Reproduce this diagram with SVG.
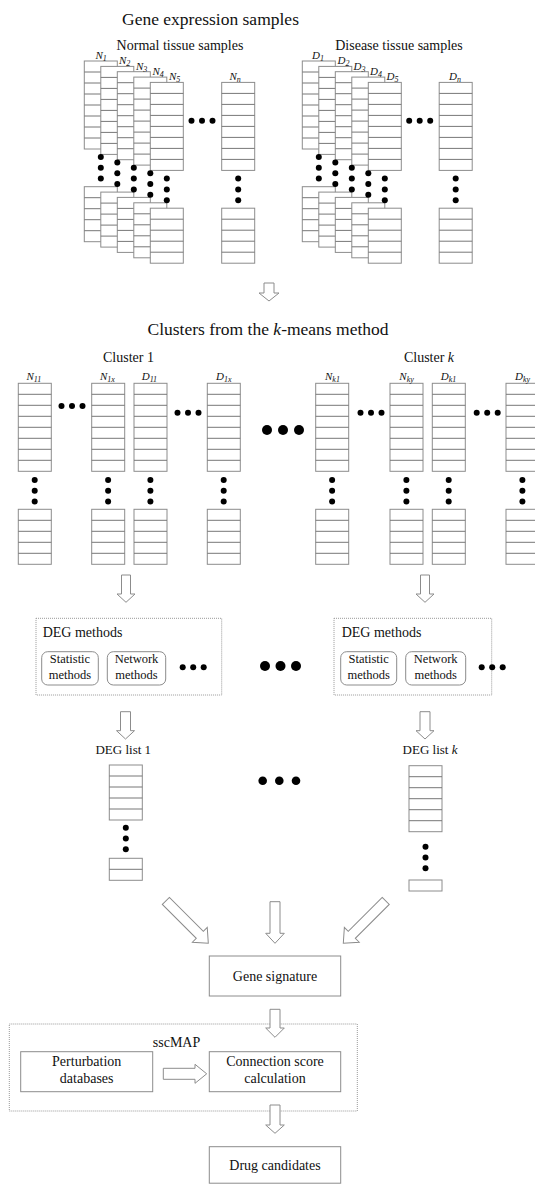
<svg xmlns="http://www.w3.org/2000/svg" width="535" height="1184" viewBox="0 0 535 1184">
  <style>
    text { font-family: "Liberation Serif", "Times New Roman", serif; fill: #111; }
    .title { font-size: 17.5px; text-anchor: middle; }
    .head { font-size: 14px; text-anchor: middle; }
    .lbl { font-size: 11px; font-style: italic; }
    .sub { font-size: 8px; }
    .box-txt { font-size: 14px; text-anchor: middle; }
    .small-txt { font-size: 12.5px; text-anchor: middle; }
    .dot { fill: #000; }
    .box { fill: #fff; stroke: #8c8c8c; stroke-width: 1; }
    .rbox { fill: #fff; stroke: #8c8c8c; stroke-width: 1; }
    .group-box { fill: none; stroke: #999; stroke-width: 1; stroke-dasharray: 1 1; }
    .arr { fill: #fff; stroke: #8c8c8c; stroke-width: 1; stroke-linejoin: miter; }
  </style>
  <defs>
    <!-- gene columns: a white box cut into rows of 11px -->
    <g id="c8">
      <rect width="33" height="88" fill="#fff" stroke="#8c8c8c"/>
      <path d="M0 11H33M0 22H33M0 33H33M0 44H33M0 55H33M0 66H33M0 77H33" stroke="#777" fill="none"/>
    </g>
    <g id="c6">
      <rect width="33" height="66" fill="#fff" stroke="#8c8c8c"/>
      <path d="M0 11H33M0 22H33M0 33H33M0 44H33M0 55H33" stroke="#777" fill="none"/>
    </g>
    <g id="c5">
      <rect width="33" height="55" fill="#fff" stroke="#8c8c8c"/>
      <path d="M0 11H33M0 22H33M0 33H33M0 44H33" stroke="#777" fill="none"/>
    </g>
    <g id="c2">
      <rect width="33" height="22" fill="#fff" stroke="#8c8c8c"/>
      <path d="M0 11H33" stroke="#777" fill="none"/>
    </g>
    <g id="c1">
      <rect width="33" height="11" fill="#fff" stroke="#8c8c8c"/>
    </g>
    <!-- three vertical dots between column parts -->
    <g id="vdots">
      <circle cx="0" cy="0" r="3" fill="#000"/>
      <circle cx="0" cy="10.8" r="3" fill="#000"/>
      <circle cx="0" cy="21.6" r="3" fill="#000"/>
    </g>
    <g id="hdots">
      <circle cx="0" cy="0" r="3" fill="#000"/>
      <circle cx="10.5" cy="0" r="3" fill="#000"/>
      <circle cx="21" cy="0" r="3" fill="#000"/>
    </g>
  </defs>

  <rect width="535" height="1184" fill="#fff"/>

  <!-- ===== Gene expression samples ===== -->
  <g id="gene-expression">
    <text class="title" x="210.5" y="25">Gene expression samples</text>
  </g>

  <g id="normal-samples">
    <text class="head" x="180" y="50">Normal tissue samples</text>
    <use href="#c8" x="84.3" y="61"/><use href="#c5" x="84.3" y="186.7"/>
    <use href="#c8" x="100.8" y="66.4"/><use href="#c5" x="100.8" y="192.1"/>
    <use href="#c8" x="117.3" y="71.7"/><use href="#c5" x="117.3" y="197.4"/>
    <use href="#c8" x="133.8" y="77.1"/><use href="#c5" x="133.8" y="202.8"/>
    <use href="#c8" x="150.3" y="82.4"/><use href="#c5" x="150.3" y="208.2"/>
    <use href="#c8" x="221.7" y="82.4"/><use href="#c5" x="221.7" y="208.2"/>
    <use href="#vdots" x="100.8" y="157"/>
    <use href="#vdots" x="117.3" y="162.4"/>
    <use href="#vdots" x="133.8" y="167.8"/>
    <use href="#vdots" x="150.3" y="173.2"/>
    <use href="#vdots" x="166.8" y="178.6"/>
    <use href="#vdots" x="238.2" y="178.6"/>
    <use href="#hdots" x="191.5" y="120.7"/>
    <text class="lbl" x="95.5" y="58.5">N<tspan class="sub" dy="2">1</tspan></text>
    <text class="lbl" x="119" y="64">N<tspan class="sub" dy="2">2</tspan></text>
    <text class="lbl" x="136" y="69.5">N<tspan class="sub" dy="2">3</tspan></text>
    <text class="lbl" x="152.5" y="75">N<tspan class="sub" dy="2">4</tspan></text>
    <text class="lbl" x="169" y="80">N<tspan class="sub" dy="2">5</tspan></text>
    <text class="lbl" x="229.5" y="80">N<tspan class="sub" dy="2">n</tspan></text>
  </g>

  <g id="disease-samples">
    <text class="head" x="399" y="50">Disease tissue samples</text>
    <use href="#c8" x="302.3" y="61"/><use href="#c5" x="302.3" y="186.7"/>
    <use href="#c8" x="318.8" y="66.4"/><use href="#c5" x="318.8" y="192.1"/>
    <use href="#c8" x="335.3" y="71.7"/><use href="#c5" x="335.3" y="197.4"/>
    <use href="#c8" x="351.8" y="77.1"/><use href="#c5" x="351.8" y="202.8"/>
    <use href="#c8" x="368.3" y="82.4"/><use href="#c5" x="368.3" y="208.2"/>
    <use href="#c8" x="439.2" y="82.4"/><use href="#c5" x="439.2" y="208.2"/>
    <use href="#vdots" x="318.8" y="157"/>
    <use href="#vdots" x="335.3" y="162.4"/>
    <use href="#vdots" x="351.8" y="167.8"/>
    <use href="#vdots" x="368.3" y="173.2"/>
    <use href="#vdots" x="384.8" y="178.6"/>
    <use href="#vdots" x="455.7" y="178.6"/>
    <use href="#hdots" x="409.2" y="120.7"/>
    <text class="lbl" x="312" y="58.5">D<tspan class="sub" dy="2">1</tspan></text>
    <text class="lbl" x="337.5" y="64">D<tspan class="sub" dy="2">2</tspan></text>
    <text class="lbl" x="353.5" y="69.5">D<tspan class="sub" dy="2">3</tspan></text>
    <text class="lbl" x="370" y="75">D<tspan class="sub" dy="2">4</tspan></text>
    <text class="lbl" x="386.5" y="80">D<tspan class="sub" dy="2">5</tspan></text>
    <text class="lbl" x="449" y="80">D<tspan class="sub" dy="2">n</tspan></text>
  </g>

  <!-- ===== Clusters ===== -->
  <g id="clusters-title">
    <text class="title" x="268" y="335">Clusters from the <tspan font-style="italic">k</tspan>-means method</text>
  </g>

  <g id="cluster-1">
    <text class="head" x="128.5" y="362">Cluster 1</text>
    <use href="#c8" x="18.3" y="383.3"/><use href="#c5" x="18.3" y="509.3"/>
    <use href="#c8" x="91.7" y="383.3"/><use href="#c5" x="91.7" y="509.3"/>
    <use href="#c8" x="134" y="383.3"/><use href="#c5" x="134" y="509.3"/>
    <use href="#c8" x="207.3" y="383.3"/><use href="#c5" x="207.3" y="509.3"/>
    <use href="#vdots" x="34.7" y="480"/>
    <use href="#vdots" x="108.1" y="480"/>
    <use href="#vdots" x="150.4" y="480"/>
    <use href="#vdots" x="223.7" y="480"/>
    <use href="#hdots" x="61.5" y="406"/>
    <use href="#hdots" x="177.5" y="412.7"/>
    <text class="lbl" x="26.5" y="380">N<tspan class="sub" dy="2">11</tspan></text>
    <text class="lbl" x="100" y="380">N<tspan class="sub" dy="2">1x</tspan></text>
    <text class="lbl" x="141.7" y="380">D<tspan class="sub" dy="2">11</tspan></text>
    <text class="lbl" x="216" y="380">D<tspan class="sub" dy="2">1x</tspan></text>
  </g>

  <g id="cluster-gap">
    <circle class="dot" cx="267" cy="430" r="5"/>
    <circle class="dot" cx="283" cy="430" r="5"/>
    <circle class="dot" cx="299" cy="430" r="5"/>
  </g>

  <g id="cluster-k">
    <text class="head" x="429" y="362">Cluster <tspan font-style="italic">k</tspan></text>
    <use href="#c8" x="315.7" y="383.3"/><use href="#c5" x="315.7" y="509.3"/>
    <use href="#c8" x="390" y="383.3"/><use href="#c5" x="390" y="509.3"/>
    <use href="#c8" x="432.3" y="383.3"/><use href="#c5" x="432.3" y="509.3"/>
    <use href="#c8" x="506" y="383.3"/><use href="#c5" x="506" y="509.3"/>
    <use href="#vdots" x="332.1" y="480"/>
    <use href="#vdots" x="406.4" y="480"/>
    <use href="#vdots" x="448.7" y="480"/>
    <use href="#vdots" x="522.4" y="480"/>
    <use href="#hdots" x="360.5" y="412.7"/>
    <use href="#hdots" x="476.7" y="412.7"/>
    <text class="lbl" x="325" y="380">N<tspan class="sub" dy="2">k1</tspan></text>
    <text class="lbl" x="399.3" y="380">N<tspan class="sub" dy="2">ky</tspan></text>
    <text class="lbl" x="440.7" y="380">D<tspan class="sub" dy="2">k1</tspan></text>
    <text class="lbl" x="515" y="380">D<tspan class="sub" dy="2">ky</tspan></text>
  </g>

  <!-- ===== DEG methods ===== -->
  <g id="deg-methods-1">
    <rect class="group-box" x="36" y="618.3" width="185.7" height="76.7"/>
    <text class="box-txt" x="42.7" y="636.7" style="text-anchor:start">DEG methods</text>
    <rect class="rbox" x="41.7" y="651.7" width="56.6" height="33.3" rx="6"/>
    <text class="small-txt" x="70" y="663.3">Statistic</text>
    <text class="small-txt" x="70" y="679.3">methods</text>
    <rect class="rbox" x="107.3" y="651.7" width="58.4" height="33.3" rx="6"/>
    <text class="small-txt" x="136.5" y="663.3">Network</text>
    <text class="small-txt" x="136.5" y="679.3">methods</text>
    <use href="#hdots" x="182.7" y="667.3"/>
  </g>

  <g id="deg-gap">
    <circle class="dot" cx="265" cy="666" r="5"/>
    <circle class="dot" cx="280.5" cy="666" r="5"/>
    <circle class="dot" cx="296" cy="666" r="5"/>
  </g>

  <g id="deg-methods-k">
    <rect class="group-box" x="334" y="618.3" width="157.7" height="76.7"/>
    <text class="box-txt" x="341.7" y="636.7" style="text-anchor:start">DEG methods</text>
    <rect class="rbox" x="340.7" y="651.7" width="56" height="33.3" rx="6"/>
    <text class="small-txt" x="368.7" y="663.3">Statistic</text>
    <text class="small-txt" x="368.7" y="679.3">methods</text>
    <rect class="rbox" x="405.7" y="651.7" width="60" height="33.3" rx="6"/>
    <text class="small-txt" x="435.7" y="663.3">Network</text>
    <text class="small-txt" x="435.7" y="679.3">methods</text>
    <use href="#hdots" x="481.7" y="667.3"/>
  </g>

  <!-- ===== DEG lists ===== -->
  <g id="deg-list-1">
    <text class="small-txt" x="123.3" y="754.3" style="font-size:13px">DEG list 1</text>
    <use href="#c5" x="109.3" y="765"/>
    <use href="#vdots" x="125.8" y="827.7"/>
    <use href="#c2" x="109.3" y="858.3"/>
  </g>

  <g id="deg-list-gap">
    <circle class="dot" cx="262.7" cy="780.7" r="4.3"/>
    <circle class="dot" cx="279.3" cy="780.7" r="4.3"/>
    <circle class="dot" cx="296" cy="780.7" r="4.3"/>
  </g>

  <g id="deg-list-k">
    <text class="small-txt" x="430" y="754.3" style="font-size:13px">DEG list <tspan font-style="italic">k</tspan></text>
    <use href="#c6" x="409" y="765.7"/>
    <use href="#vdots" x="425.5" y="846.7"/>
    <use href="#c1" x="409" y="880"/>
  </g>

  <!-- ===== Signature and sscMAP ===== -->
  <g id="gene-signature">
    <rect class="box" x="209.3" y="956" width="131.4" height="40"/>
    <text class="box-txt" x="275" y="980.7">Gene signature</text>
  </g>

  <g id="sscmap">
    <rect class="group-box" x="9.3" y="1024" width="348" height="87"/>
    <text class="box-txt" x="176.5" y="1046.7">sscMAP</text>
  </g>

  <g id="perturbation-databases">
    <rect class="box" x="20.7" y="1051.7" width="132" height="40"/>
    <text class="box-txt" x="86.7" y="1066">Perturbation</text>
    <text class="box-txt" x="86.7" y="1083.3">databases</text>
  </g>

  <g id="connection-score">
    <rect class="box" x="209.3" y="1051.7" width="131.4" height="40"/>
    <text class="box-txt" x="275" y="1066">Connection score</text>
    <text class="box-txt" x="275" y="1083.3">calculation</text>
  </g>

  <g id="drug-candidates">
    <rect class="box" x="209.3" y="1146.7" width="131.4" height="36.5"/>
    <text class="box-txt" x="275" y="1170">Drug candidates</text>
  </g>

  <!-- ===== Block arrows ===== -->
  <g id="connectors">
    <polygon class="arr" points="264,283 274,283 274,293 279,293 269,301 259,293 264,293"/>
    <polygon class="arr" points="121.5,575 130.5,575 130.5,594 135,594 126,602.3 117,594 121.5,594"/>
    <polygon class="arr" points="420.5,575 429.5,575 429.5,594 434,594 425,602.3 416,594 420.5,594"/>
    <polygon class="arr" points="120.5,711.7 130.5,711.7 130.5,730.7 134.5,730.7 125.5,739 116.5,730.7 120.5,730.7"/>
    <polygon class="arr" points="420,711.7 430,711.7 430,730.7 434,730.7 425,739 416,730.7 420,730.7"/>
    <polygon class="arr" transform="translate(208.3 943.3) rotate(-45)" points="-5,-60 5,-60 5,-12 10.5,-12 0,0 -10.5,-12 -5,-12"/>
    <polygon class="arr" points="270,901.7 280,901.7 280,933.3 284.3,933.3 275,943.3 265.7,933.3 270,933.3"/>
    <polygon class="arr" transform="translate(343.3 943.3) rotate(45)" points="-5,-60 5,-60 5,-12 10.5,-12 0,0 -10.5,-12 -5,-12"/>
    <polygon class="arr" points="270,1009.3 280,1009.3 280,1028 284.3,1028 275,1037.3 265.7,1028 270,1028"/>
    <polygon class="arr" points="163.3,1068.3 195,1068.3 195,1064.3 206.7,1073.8 195,1083.3 195,1079.3 163.3,1079.3"/>
    <polygon class="arr" points="270,1105 280,1105 280,1125 284.3,1125 275,1133.3 265.7,1125 270,1125"/>
  </g>
</svg>
